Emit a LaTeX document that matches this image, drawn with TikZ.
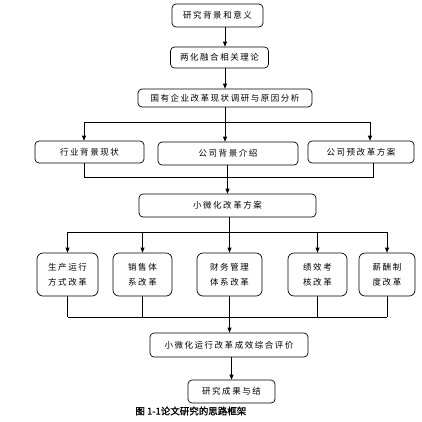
\documentclass[tikz,border=0pt]{standalone}
\usepackage{fontspec}
\usepackage{tikz}
\usetikzlibrary{arrows.meta, positioning, calc}
\newfontfamily\cjk{Noto Sans CJK SC}[LetterSpace=18]
\newfontfamily\capfont{Noto Sans CJK SC}[FakeBold=1.2]

\begin{document}
\begin{tikzpicture}[
    x=1pt, y=-1pt,
    >={Triangle[length=5pt, width=4pt]},
    line width=0.7pt,
    stagebox/.style={draw, rounded corners=4pt, line width=0.7pt, inner sep=0pt, align=center,
                     font=\cjk\fontsize{8.5}{15}\selectfont},
    reformbox/.style={stagebox, rounded corners=6pt, minimum width=#1, minimum height=43pt},
]
    \useasboundingbox (0,0) rectangle (422,421);
    % top chain
    \node[stagebox, minimum width=91pt, minimum height=23pt] (bg) at (217.5,15.5) {研究背景和意义};
    \node[stagebox, minimum width=98pt, minimum height=21pt] (theory) at (219.5,57.5) {两化融合相关理论};
    \node[stagebox, minimum width=174pt, minimum height=18pt] (survey) at (225,98) {国有企业改革现状调研与原因分析};
    % second row
    \node[stagebox, minimum width=109pt, minimum height=22pt] (industry) at (89.5,152) {行业背景现状};
    \node[stagebox, minimum width=140pt, minimum height=23pt] (company) at (228,153.5) {公司背景介绍};
    \node[stagebox, minimum width=106pt, minimum height=22pt] (prereform) at (361,152) {公司预改革方案};
    \node[stagebox, minimum width=177pt, minimum height=23pt] (plan) at (227.5,205.5) {小微化改革方案};
    % reform row
    \node[reformbox=61pt] (prod) at (67.5,274.5) {生产运行\\方式改革};
    \node[reformbox=59pt] (sales) at (142.5,274.5) {销售体\\系改革};
    \node[reformbox=65pt] (finance) at (229.5,274.5) {财务管理\\体系改革};
    \node[reformbox=59pt] (perf) at (317.5,274.5) {绩效考\\核改革};
    \node[reformbox=56pt] (pay) at (387,274.5) {薪酬制\\度改革};
    % bottom chain
    \node[stagebox, minimum width=158pt, minimum height=24pt] (eval) at (229,345) {小微化运行改革成效综合评价};
    \node[stagebox, minimum width=87pt, minimum height=23pt] (result) at (231.5,391.5) {研究成果与结};
    \node[anchor=west, inner sep=0pt, font=\capfont\fontsize{9.5}{11}\selectfont] (caption) at (135,411) {图 1-1论文研究的思路框架};

    % connectors
    \draw[->] (bg.south -| survey) -- (theory.north -| survey);
    \draw[->] (theory.south -| survey) -- (survey.north);

    \coordinate (splitL) at (84,122);
    \coordinate (splitR) at (370,122);
    \draw (survey.south) -- (survey |- splitL);
    \draw (splitL) -- (splitR);
    \draw[->] (splitL) -- (splitL |- industry.north);
    \draw[->] (survey |- splitL) -- (survey |- company.north);
    \draw[->] (splitR) -- (splitR |- prereform.north);

    \coordinate (joinL) at (84,177);
    \coordinate (joinR) at (373,177);
    \draw (industry.south -| joinL) -- (joinL) -- (joinR) -- (prereform.south -| joinR);
    \draw[->] (company.south -| plan) -- (plan.north);

    \coordinate (forkL) at (67.5,232);
    \coordinate (forkR) at (387,232);
    \draw (plan.south -| finance) -- (finance |- forkL);
    \draw (forkL) -- (forkR);
    \foreach \stage in {prod, sales, finance, perf, pay}
        \draw[->] (\stage |- forkL) -- (\stage.north);

    \coordinate (mergeL) at (67.5,317);
    \coordinate (mergeR) at (387,317);
    \foreach \stage in {prod, sales, finance, perf, pay}
        \draw (\stage.south) -- (\stage |- mergeL);
    \draw (mergeL) -- (mergeR);
    \draw[->] (finance |- mergeL) -- (finance |- eval.north);
    \draw[->] (eval.south -| result) -- (result.north);
\end{tikzpicture}
\end{document}
